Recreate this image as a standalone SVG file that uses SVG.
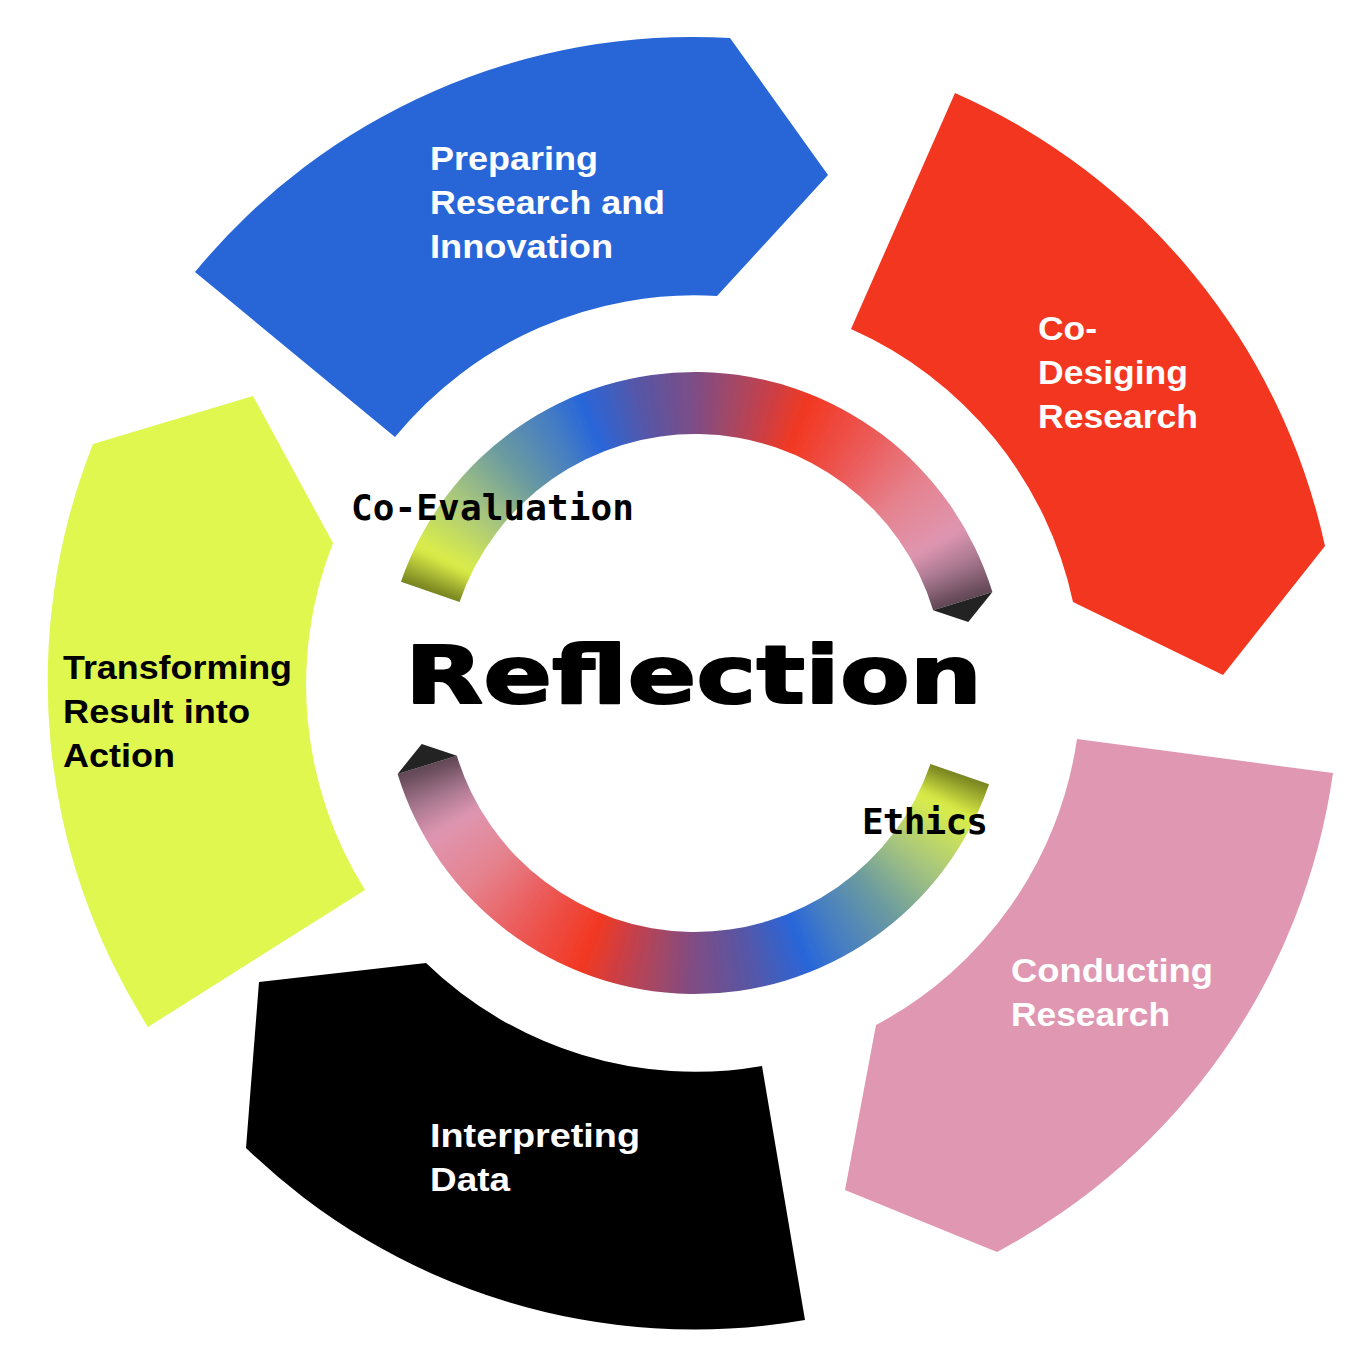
<svg xmlns="http://www.w3.org/2000/svg" xmlns:xlink="http://www.w3.org/1999/xlink" width="1368" height="1368" viewBox="0 0 1368 1368">
<style>
.lbl{font-family:"Liberation Sans",Arial,sans-serif;font-weight:700;font-size:33px}
.w{fill:#ffffff}
.k{fill:#000000}
.mono{font-family:"DejaVu Sans Mono","Liberation Mono",monospace;font-weight:700;font-size:36px;fill:#000}
.big{font-family:"DejaVu Sans","Liberation Sans",sans-serif;font-weight:700;font-size:81px;fill:#000;stroke:#000;stroke-width:2;stroke-linejoin:round}
</style>
<defs>
<filter id="soft" x="-20%" y="-20%" width="140%" height="140%"><feGaussianBlur stdDeviation="3.5"/></filter>
<path id="w" d="M0,0 L0,-330 L14.97,-329.66 Z"/>
<clipPath id="ringClip"><path d="M -294.06,-101.25 A 311 311 0 0 1 297.41,-90.93 L 238.12,-72.80 A 249 249 0 0 0 -235.43,-81.07 Z"/></clipPath>
<g id="arc">
<g clip-path="url(#ringClip)">
<g filter="url(#soft)">
<use href="#w" transform="rotate(-76)" fill="#75801f"/>
<use href="#w" transform="rotate(-74)" fill="#75801f"/>
<use href="#w" transform="rotate(-72)" fill="#75801f"/>
<use href="#w" transform="rotate(-71)" fill="#7c8822"/>
<use href="#w" transform="rotate(-70)" fill="#8b9828"/>
<use href="#w" transform="rotate(-69)" fill="#9aa82e"/>
<use href="#w" transform="rotate(-68)" fill="#a9b834"/>
<use href="#w" transform="rotate(-67)" fill="#b7c739"/>
<use href="#w" transform="rotate(-66)" fill="#c6d73f"/>
<use href="#w" transform="rotate(-65)" fill="#d5e745"/>
<use href="#w" transform="rotate(-64)" fill="#dbed4a"/>
<use href="#w" transform="rotate(-63)" fill="#d4e851"/>
<use href="#w" transform="rotate(-61)" fill="#cbe259"/>
<use href="#w" transform="rotate(-59)" fill="#c3db62"/>
<use href="#w" transform="rotate(-57)" fill="#bad46b"/>
<use href="#w" transform="rotate(-55)" fill="#b2ce73"/>
<use href="#w" transform="rotate(-53)" fill="#a9c77c"/>
<use href="#w" transform="rotate(-51)" fill="#9fc082"/>
<use href="#w" transform="rotate(-49)" fill="#94b888"/>
<use href="#w" transform="rotate(-47)" fill="#8ab18e"/>
<use href="#w" transform="rotate(-45)" fill="#7fa994"/>
<use href="#w" transform="rotate(-43)" fill="#75a29a"/>
<use href="#w" transform="rotate(-41)" fill="#6a9aa0"/>
<use href="#w" transform="rotate(-39)" fill="#6495a6"/>
<use href="#w" transform="rotate(-37)" fill="#5d90ad"/>
<use href="#w" transform="rotate(-35)" fill="#578ab3"/>
<use href="#w" transform="rotate(-33)" fill="#5085ba"/>
<use href="#w" transform="rotate(-31)" fill="#4a80c0"/>
<use href="#w" transform="rotate(-29)" fill="#427ac6"/>
<use href="#w" transform="rotate(-27)" fill="#3973cd"/>
<use href="#w" transform="rotate(-25)" fill="#316dd3"/>
<use href="#w" transform="rotate(-23)" fill="#2866d9"/>
<use href="#w" transform="rotate(-21)" fill="#3063d0"/>
<use href="#w" transform="rotate(-19)" fill="#3960c7"/>
<use href="#w" transform="rotate(-17)" fill="#415ebe"/>
<use href="#w" transform="rotate(-15)" fill="#495bb5"/>
<use href="#w" transform="rotate(-13)" fill="#5258ac"/>
<use href="#w" transform="rotate(-11)" fill="#5a55a3"/>
<use href="#w" transform="rotate(-9)" fill="#61539d"/>
<use href="#w" transform="rotate(-7)" fill="#685297"/>
<use href="#w" transform="rotate(-5)" fill="#705091"/>
<use href="#w" transform="rotate(-3)" fill="#774f8b"/>
<use href="#w" transform="rotate(-1)" fill="#7e4d85"/>
<use href="#w" transform="rotate(1)" fill="#884b7d"/>
<use href="#w" transform="rotate(3)" fill="#924975"/>
<use href="#w" transform="rotate(5)" fill="#9c486c"/>
<use href="#w" transform="rotate(7)" fill="#a64664"/>
<use href="#w" transform="rotate(9)" fill="#b0445c"/>
<use href="#w" transform="rotate(11)" fill="#bb4252"/>
<use href="#w" transform="rotate(13)" fill="#c64049"/>
<use href="#w" transform="rotate(15)" fill="#d13e3f"/>
<use href="#w" transform="rotate(17)" fill="#dc3c35"/>
<use href="#w" transform="rotate(19)" fill="#e73a2c"/>
<use href="#w" transform="rotate(21)" fill="#f23822"/>
<use href="#w" transform="rotate(23)" fill="#f13d2a"/>
<use href="#w" transform="rotate(25)" fill="#f04232"/>
<use href="#w" transform="rotate(27)" fill="#ef473a"/>
<use href="#w" transform="rotate(29)" fill="#ee4c42"/>
<use href="#w" transform="rotate(31)" fill="#ed514a"/>
<use href="#w" transform="rotate(33)" fill="#ec5652"/>
<use href="#w" transform="rotate(35)" fill="#eb5b5a"/>
<use href="#w" transform="rotate(37)" fill="#ea6263"/>
<use href="#w" transform="rotate(39)" fill="#e9686c"/>
<use href="#w" transform="rotate(41)" fill="#e86f74"/>
<use href="#w" transform="rotate(43)" fill="#e7757d"/>
<use href="#w" transform="rotate(45)" fill="#e67c85"/>
<use href="#w" transform="rotate(47)" fill="#e5828e"/>
<use href="#w" transform="rotate(49)" fill="#e48594"/>
<use href="#w" transform="rotate(51)" fill="#e3899a"/>
<use href="#w" transform="rotate(53)" fill="#e28ca0"/>
<use href="#w" transform="rotate(55)" fill="#e18fa5"/>
<use href="#w" transform="rotate(57)" fill="#e093ab"/>
<use href="#w" transform="rotate(59)" fill="#df95b0"/>
<use href="#w" transform="rotate(60)" fill="#da93ae"/>
<use href="#w" transform="rotate(61)" fill="#d18fa9"/>
<use href="#w" transform="rotate(62)" fill="#c889a3"/>
<use href="#w" transform="rotate(63)" fill="#bf849e"/>
<use href="#w" transform="rotate(64)" fill="#b68098"/>
<use href="#w" transform="rotate(65)" fill="#ad7a93"/>
<use href="#w" transform="rotate(66)" fill="#a3748c"/>
<use href="#w" transform="rotate(67)" fill="#986d83"/>
<use href="#w" transform="rotate(68)" fill="#8e667a"/>
<use href="#w" transform="rotate(69)" fill="#835f71"/>
<use href="#w" transform="rotate(70)" fill="#785768"/>
<use href="#w" transform="rotate(71)" fill="#6e505f"/>
<use href="#w" transform="rotate(72)" fill="#634956"/>
<use href="#w" transform="rotate(73)" fill="#5e4552"/>
<use href="#w" transform="rotate(75)" fill="#5e4552"/>
</g>
</g>
<path d="M297.41,-90.93 L273.26,-61.08 L238.12,-72.80 Z" fill="#232323"/>
</g>
</defs>
<rect width="1368" height="1368" fill="#ffffff"/>

<g id="seg-preparing">
<path d="M195,272 A645,645 0 0 1 730,38 L828,175 L717,296 A387,387 0 0 0 395,437 Z" fill="#2866d8"/>
<text class="lbl w" x="430" y="170" textLength="168" lengthAdjust="spacingAndGlyphs">Preparing</text>
<text class="lbl w" x="430" y="214" textLength="235" lengthAdjust="spacingAndGlyphs">Research and</text>
<text class="lbl w" x="430" y="258" textLength="183" lengthAdjust="spacingAndGlyphs">Innovation</text>
</g>

<g id="seg-codesigning">
<path d="M955,93 A645,645 0 0 1 1325,546 L1223,675 L1073,602 A387,387 0 0 0 851,329 Z" fill="#f33620"/>
<text class="lbl w" x="1038" y="340" textLength="59" lengthAdjust="spacingAndGlyphs">Co-</text>
<text class="lbl w" x="1038" y="384" textLength="150" lengthAdjust="spacingAndGlyphs">Desiging</text>
<text class="lbl w" x="1038" y="428" textLength="160" lengthAdjust="spacingAndGlyphs">Research</text>
</g>

<g id="seg-conducting">
<path d="M1333,773 A645,645 0 0 1 997,1252 L845,1190 L876,1025 A387,387 0 0 0 1077,739 Z" fill="#e098b2"/>
<text class="lbl w" x="1011" y="982" textLength="202" lengthAdjust="spacingAndGlyphs">Conducting</text>
<text class="lbl w" x="1011" y="1026" textLength="159" lengthAdjust="spacingAndGlyphs">Research</text>
</g>

<g id="seg-interpreting">
<path d="M805,1320 A645,645 0 0 1 246,1148 L259,982 L426,963 A387,387 0 0 0 762,1066 Z" fill="#000000"/>
<text class="lbl w" x="430" y="1147" textLength="210" lengthAdjust="spacingAndGlyphs">Interpreting</text>
<text class="lbl w" x="430" y="1191" textLength="80" lengthAdjust="spacingAndGlyphs">Data</text>
</g>

<g id="seg-transforming">
<path d="M148,1027 A645,645 0 0 1 93,444 L253,396 L333,543 A387,387 0 0 0 365,890 Z" fill="#dff74f"/>
<text class="lbl k" x="63" y="679" textLength="229" lengthAdjust="spacingAndGlyphs">Transforming</text>
<text class="lbl k" x="63" y="723" textLength="187" lengthAdjust="spacingAndGlyphs">Result into</text>
<text class="lbl k" x="63" y="767" textLength="112" lengthAdjust="spacingAndGlyphs">Action</text>
</g>

<g id="connectors" transform="translate(695,683)">
<use href="#arc"/>
<use href="#arc" transform="rotate(180)"/>
</g>

<g id="ring-labels">
<text class="mono" x="351" y="520" textLength="283" lengthAdjust="spacing">Co-Evaluation</text>
<text class="mono" x="862" y="834" textLength="126" lengthAdjust="spacing">Ethics</text>
</g>

<g id="center">
<text class="big" x="405" y="703" textLength="577" lengthAdjust="spacingAndGlyphs">Reflection</text>
</g>
</svg>
